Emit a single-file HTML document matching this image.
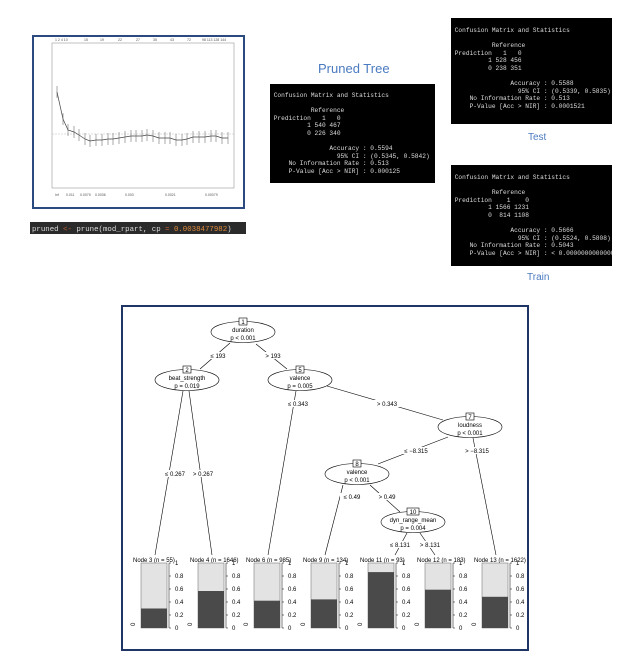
<!DOCTYPE html>
<html><head><meta charset="utf-8"><style>
body{margin:0;width:638px;height:666px;background:#fff;position:relative;overflow:hidden;font-family:"Liberation Sans",sans-serif}
.cm{position:absolute;background:#000;color:#ddd;font-family:"Liberation Mono",monospace;font-size:6.2px;line-height:7.6px;white-space:pre;padding:0;box-sizing:border-box;padding-top:8px;overflow:hidden}
.lbl{position:absolute;color:#4a7ac0;font-family:"Liberation Sans",sans-serif}
</style></head><body>
<svg width="638" height="666" style="position:absolute;left:0;top:0" font-family="Liberation Sans, sans-serif">
<rect x="33" y="36" width="211" height="172" fill="#fff" stroke="#2b4a80" stroke-width="2"/>
<rect x="52" y="43" width="182" height="145" fill="none" stroke="#999" stroke-width="0.6"/>
<g font-size="3.5" fill="#555">
<text x="55" y="41">1 2 4 10</text><text x="84" y="41">15</text><text x="100" y="41">19</text><text x="118" y="41">22</text><text x="136" y="41">27</text><text x="153" y="41">35</text><text x="170" y="41">43</text><text x="187" y="41">72</text><text x="202" y="41">98 113 128 144</text>
<text x="55" y="196">Inf</text><text x="66" y="196">0.011</text><text x="80" y="196">0.0079</text><text x="95" y="196">0.0036</text><text x="125" y="196">0.003</text><text x="165" y="196">0.0021</text><text x="205" y="196">0.00079</text>
</g>
<line x1="52" y1="134" x2="234" y2="134" stroke="#bbb" stroke-width="0.6" stroke-dasharray="2,1"/>
<polyline fill="none" stroke="#444" stroke-width="0.7" points="57,92 63,119 68,130 74,132 79,135 85,139 90,141 96,140 102,140 108,139 113,139 119,138 125,137 131,136 136,136 142,136 147,135 153,136 159,138 165,138 170,138 176,140 182,140 187,139 193,137 199,137 205,137 211,136 216,136 222,138 228,138"/>
<g stroke="#555" stroke-width="0.5">
<line x1="57" y1="86" x2="57" y2="98"/><line x1="63" y1="113" x2="63" y2="125"/><line x1="68" y1="124" x2="68" y2="136"/><line x1="74" y1="126" x2="74" y2="138"/><line x1="79" y1="129" x2="79" y2="141"/><line x1="85" y1="133" x2="85" y2="145"/><line x1="90" y1="135" x2="90" y2="147"/><line x1="96" y1="134" x2="96" y2="146"/><line x1="102" y1="134" x2="102" y2="146"/><line x1="108" y1="133" x2="108" y2="145"/><line x1="113" y1="133" x2="113" y2="145"/><line x1="119" y1="132" x2="119" y2="144"/><line x1="125" y1="131" x2="125" y2="143"/><line x1="131" y1="130" x2="131" y2="142"/><line x1="136" y1="130" x2="136" y2="142"/><line x1="142" y1="130" x2="142" y2="142"/><line x1="147" y1="129" x2="147" y2="141"/><line x1="153" y1="130" x2="153" y2="142"/><line x1="159" y1="132" x2="159" y2="144"/><line x1="165" y1="132" x2="165" y2="144"/><line x1="170" y1="132" x2="170" y2="144"/><line x1="176" y1="134" x2="176" y2="146"/><line x1="182" y1="134" x2="182" y2="146"/><line x1="187" y1="133" x2="187" y2="145"/><line x1="193" y1="131" x2="193" y2="143"/><line x1="199" y1="131" x2="199" y2="143"/><line x1="205" y1="131" x2="205" y2="143"/><line x1="211" y1="130" x2="211" y2="142"/><line x1="216" y1="130" x2="216" y2="142"/><line x1="222" y1="132" x2="222" y2="144"/><line x1="228" y1="132" x2="228" y2="144"/>
</g>
<rect x="30" y="222" width="216" height="12" fill="#2b2b2b"/>
<text x="32" y="231" font-family="Liberation Mono, monospace" font-size="7.4" fill="#ddd">pruned <tspan fill="#c06030">&lt;-</tspan> prune(mod_rpart, cp <tspan fill="#c06030">=</tspan> <tspan fill="#e08a3a">0.0038477982</tspan>)</text>

<rect x="122" y="306" width="406" height="344" fill="#fff" stroke="#1f3566" stroke-width="2"/>
<g stroke="#000" stroke-width="0.6" fill="none">
<line x1="230" y1="343" x2="200" y2="369"/><line x1="256" y1="344" x2="287" y2="369"/>
<line x1="183" y1="391" x2="155" y2="555"/><line x1="189" y1="391" x2="212" y2="555"/>
<line x1="296" y1="391" x2="268" y2="555"/><line x1="327" y1="386" x2="443" y2="420"/>
<line x1="448" y1="437" x2="378" y2="464"/><line x1="473" y1="438" x2="496" y2="555"/>
<line x1="343" y1="485" x2="325" y2="555"/><line x1="370" y1="485" x2="400" y2="512"/>
<line x1="407" y1="533" x2="395" y2="555"/><line x1="420" y1="533" x2="435" y2="555"/>
</g>
<g stroke="#000" stroke-width="0.6" fill="#fff">
<ellipse cx="243" cy="332" rx="32" ry="10.5"/><ellipse cx="187" cy="380" rx="32" ry="10.5"/>
<ellipse cx="300" cy="380" rx="32" ry="10.5"/><ellipse cx="470" cy="427" rx="32" ry="10.5"/>
<ellipse cx="357" cy="474" rx="32" ry="10.5"/><ellipse cx="413" cy="522" rx="32" ry="10.5"/>
<rect x="239" y="318" width="8" height="7"/><rect x="183" y="366" width="8" height="7"/>
<rect x="296" y="366" width="8" height="7"/><rect x="466" y="413" width="8" height="7"/>
<rect x="353" y="460" width="8" height="7"/><rect x="407" y="508" width="12" height="7"/>
</g>
<g font-size="6" text-anchor="middle" fill="#000">
<text x="243" y="324">1</text><text x="187" y="372">2</text><text x="300" y="372">5</text><text x="470" y="419">7</text><text x="357" y="466">8</text><text x="413" y="514">10</text>
<text x="243" y="332">duration</text><text x="243" y="340">p &lt; 0.001</text>
<text x="187" y="380">beat_strength</text><text x="187" y="388">p = 0.019</text>
<text x="300" y="380">valence</text><text x="300" y="388">p = 0.005</text>
<text x="470" y="427">loudness</text><text x="470" y="435">p &lt; 0.001</text>
<text x="357" y="474">valence</text><text x="357" y="482">p &lt; 0.001</text>
<text x="413" y="522">dyn_range_mean</text><text x="413" y="530">p = 0.004</text>
<g fill="#fff" stroke="none"><rect x="208" y="352" width="20" height="7"/><rect x="263" y="352" width="20" height="7"/><rect x="286" y="400" width="24" height="7"/><rect x="374" y="400" width="26" height="7"/><rect x="162" y="470" width="26" height="7"/><rect x="190" y="470" width="26" height="7"/><rect x="400" y="447" width="32" height="7"/><rect x="461" y="447" width="32" height="7"/><rect x="340" y="493" width="24" height="7"/><rect x="375" y="493" width="24" height="7"/><rect x="388" y="541" width="24" height="7"/><rect x="418" y="541" width="24" height="7"/></g>
<text x="218" y="358">≤ 193</text><text x="273" y="358">&gt; 193</text>
<text x="298" y="406">≤ 0.343</text><text x="387" y="406">&gt; 0.343</text>
<text x="175" y="476">≤ 0.267</text><text x="203" y="476">&gt; 0.267</text>
<text x="416" y="453">≤ −8.315</text><text x="477" y="453">&gt; −8.315</text>
<text x="352" y="499">≤ 0.49</text><text x="387" y="499">&gt; 0.49</text>
<text x="400" y="547">≤ 8.131</text><text x="430" y="547">&gt; 8.131</text>
</g>
<g font-size="6" fill="#000">
<text x="133" y="562">Node 3 (n = 55)</text><text x="190" y="562">Node 4 (n = 1646)</text><text x="246" y="562">Node 6 (n = 985)</text><text x="303" y="562">Node 9 (n = 134)</text><text x="360" y="562">Node 11 (n = 93)</text><text x="417" y="562">Node 12 (n = 183)</text><text x="474" y="562">Node 13 (n = 1622)</text>
</g>
</svg>
<svg width="638" height="666" style="position:absolute;left:0;top:0" font-family="Liberation Sans, sans-serif" font-size="6">
<defs><g id="ax" stroke="#000" stroke-width="0.5"><line x1="0" y1="0" x2="0" y2="65"/><line x1="0" y1="0" x2="2" y2="0"/><line x1="0" y1="13" x2="2" y2="13"/><line x1="0" y1="26" x2="2" y2="26"/><line x1="0" y1="39" x2="2" y2="39"/><line x1="0" y1="52" x2="2" y2="52"/><line x1="0" y1="65" x2="2" y2="65"/></g>
<g id="tk" fill="#000"><text x="6" y="2">1</text><text x="6" y="15">0.8</text><text x="6" y="28">0.6</text><text x="6" y="41">0.4</text><text x="6" y="54">0.2</text><text x="6" y="67">0</text></g></defs>
<g transform="translate(141,563)"><rect width="26" height="65" fill="#e3e3e3" stroke="#666" stroke-width="0.5"/><rect y="45.5" width="26" height="19.5" fill="#4a4a4a"/><use href="#ax" x="28"/><use href="#tk" x="28"/><text x="-6" y="63" transform="rotate(-90 -6 63)">0</text></g>
<g transform="translate(198,563)"><rect width="26" height="65" fill="#e3e3e3" stroke="#666" stroke-width="0.5"/><rect y="28" width="26" height="37" fill="#4a4a4a"/><use href="#ax" x="28"/><use href="#tk" x="28"/><text x="-6" y="63" transform="rotate(-90 -6 63)">0</text></g>
<g transform="translate(254,563)"><rect width="26" height="65" fill="#e3e3e3" stroke="#666" stroke-width="0.5"/><rect y="37.7" width="26" height="27.3" fill="#4a4a4a"/><use href="#ax" x="28"/><use href="#tk" x="28"/><text x="-6" y="63" transform="rotate(-90 -6 63)">0</text></g>
<g transform="translate(311,563)"><rect width="26" height="65" fill="#e3e3e3" stroke="#666" stroke-width="0.5"/><rect y="36.4" width="26" height="28.6" fill="#4a4a4a"/><use href="#ax" x="28"/><use href="#tk" x="28"/><text x="-6" y="63" transform="rotate(-90 -6 63)">0</text></g>
<g transform="translate(368,563)"><rect width="26" height="65" fill="#e3e3e3" stroke="#666" stroke-width="0.5"/><rect y="9.1" width="26" height="55.9" fill="#4a4a4a"/><use href="#ax" x="28"/><use href="#tk" x="28"/><text x="-6" y="63" transform="rotate(-90 -6 63)">0</text></g>
<g transform="translate(425,563)"><rect width="26" height="65" fill="#e3e3e3" stroke="#666" stroke-width="0.5"/><rect y="26.7" width="26" height="38.3" fill="#4a4a4a"/><use href="#ax" x="28"/><use href="#tk" x="28"/><text x="-6" y="63" transform="rotate(-90 -6 63)">0</text></g>
<g transform="translate(482,563)"><rect width="26" height="65" fill="#e3e3e3" stroke="#666" stroke-width="0.5"/><rect y="33.8" width="26" height="31.2" fill="#4a4a4a"/><use href="#ax" x="28"/><use href="#tk" x="28"/><text x="-6" y="63" transform="rotate(-90 -6 63)">0</text></g>
</svg>

<div class="lbl" style="left:318px;top:61px;font-size:13px">Pruned Tree</div>
<div class="lbl" style="left:528px;top:132px;font-size:10px">Test</div>
<div class="lbl" style="left:527px;top:272px;font-size:10px">Train</div>

<div class="cm" style="left:270px;top:84px;width:165px;height:99px"> Confusion Matrix and Statistics

           Reference
 Prediction   1   0
          1 540 467
          0 226 340

                Accuracy : 0.5594
                  95% CI : (0.5345, 0.5842)
     No Information Rate : 0.513
     P-Value [Acc &gt; NIR] : 0.000125</div>
<div class="cm" style="left:451px;top:18px;width:161px;height:106px;padding-top:9px"> Confusion Matrix and Statistics

           Reference
 Prediction   1   0
          1 528 456
          0 238 351

                Accuracy : 0.5588
                  95% CI : (0.5339, 0.5835)
     No Information Rate : 0.513
     P-Value [Acc &gt; NIR] : 0.0001521</div>
<div class="cm" style="left:451px;top:165px;width:161px;height:101px;padding-top:9px"> Confusion Matrix and Statistics

           Reference
 Prediction    1    0
          1 1566 1231
          0  814 1108

                Accuracy : 0.5666
                  95% CI : (0.5524, 0.5808)
     No Information Rate : 0.5043
     P-Value [Acc &gt; NIR] : &lt; 0.00000000000000022</div>
</body></html>
